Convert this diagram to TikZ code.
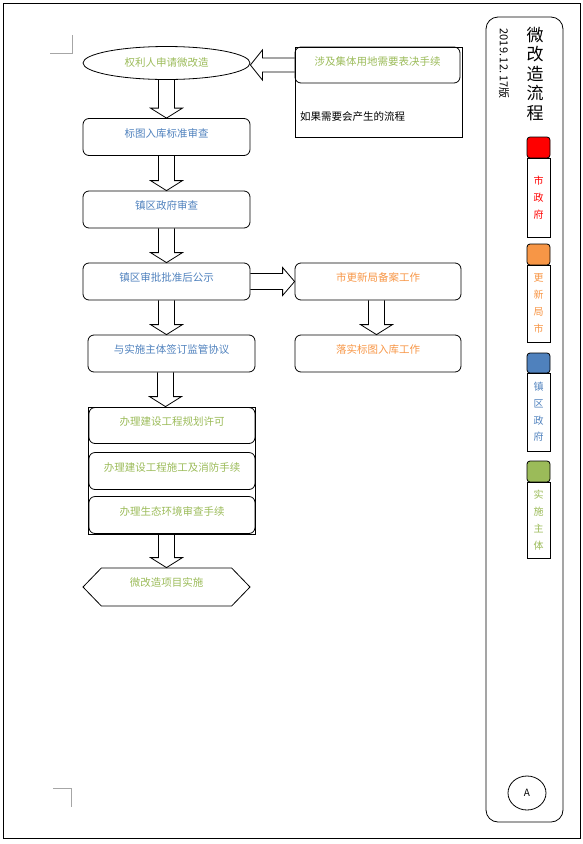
\documentclass[tikz,border=0pt]{standalone}
\usepackage{fontspec}
\setmainfont{Noto Sans CJK SC}
\usepackage{tikz}
\usetikzlibrary{shapes.geometric,shapes.symbols,calc}
\definecolor{cityred}{HTML}{FF0000}
\definecolor{bureauorange}{HTML}{F79646}
\definecolor{townblue}{HTML}{4F81BD}
\definecolor{ownergreen}{HTML}{9BBB59}
\tikzstyle{stepbox}=[draw, rounded corners=6pt, line width=0.8pt, minimum width=167pt, minimum height=37pt, inner sep=0pt, text depth=8.5pt, font=\fontsize{10.5}{12}\selectfont]
\tikzstyle{frame}=[draw, line width=0.8pt, inner sep=0pt]
\tikzstyle{hollow}=[draw, line width=0.8pt, line join=miter]
\tikzstyle{swatch}=[draw, rounded corners=3pt, line width=0.8pt, minimum width=23pt, minimum height=21pt, inner sep=0pt]
\tikzstyle{legendbox}=[draw, line width=0.8pt, minimum width=23pt, inner sep=0pt, align=center, font=\fontsize{10}{16.8}\selectfont]
\tikzstyle{cropmark}=[gray!70, line width=0.6pt]
% hollow block arrows between two nodes
\newcommand{\blockdown}[3][0pt]{%
  \path[hollow] let \p1=(#2.south), \p2=(#3.north) in
    (\x1+#1-8pt,\y1) -- (\x1+#1-8pt,\y2+10pt) -- (\x1+#1-16pt,\y2+10pt) -- (\x1+#1,\y2)
    -- (\x1+#1+16pt,\y2+10pt) -- (\x1+#1+8pt,\y2+10pt) -- (\x1+#1+8pt,\y1);}
\newcommand{\blockright}[2]{%
  \path[hollow] let \p1=(#1.east), \p2=(#2.west) in
    (\x1,\y1+8pt) -- (\x2-12pt,\y1+8pt) -- (\x2-12pt,\y1+14pt) -- (\x2,\y1)
    -- (\x2-12pt,\y1-14pt) -- (\x2-12pt,\y1-8pt) -- (\x1,\y1-8pt);}
\newcommand{\blockleft}[2]{%
  \path[hollow] let \p1=(#1.west), \p2=(#2.east) in
    (\x1,\y1+7pt) -- (\x2+12pt,\y1+7pt) -- (\x2+12pt,\y1+15pt) -- (\x2,\y1)
    -- (\x2+12pt,\y1-15pt) -- (\x2+12pt,\y1-7pt) -- (\x1,\y1-7pt);}

\begin{document}
\begin{tikzpicture}[x=1pt,y=-1pt]
  \useasboundingbox (0,0) rectangle (583,844);
  % page
  \draw[line width=0.8pt] (3,3) rectangle (580,838);
  \draw[cropmark] (50,53) -- (72,53) -- (72,35);
  \draw[cropmark] (53,788) -- (71,788) -- (71,807);
  % main column
  \node[ellipse, draw, line width=0.8pt, minimum width=167pt, minimum height=33pt, inner sep=0pt, text=ownergreen, font=\fontsize{10.5}{12}\selectfont] (apply) at (166.5,63) {权利人申请微改造};
  \node[stepbox, text=townblue] (check) at (166.5,137) {标图入库标准审查};
  \node[stepbox, text=townblue] (town) at (166.5,209.5) {镇区政府审查};
  \node[stepbox, text=townblue] (publish) at (166.5,281.5) {镇区审批批准后公示};
  \node[stepbox, text=townblue] (sign) at (171.5,353.5) {与实施主体签订监管协议};
  \node[frame, minimum width=167pt, minimum height=127pt] (permits) at (171.5,470.5) {};
  \node[stepbox, minimum width=166pt, minimum height=36pt, text=ownergreen] (plan) at (172,425.5) {办理建设工程规划许可};
  \node[stepbox, minimum width=166pt, text=ownergreen] (build) at (172,471) {办理建设工程施工及消防手续};
  \node[stepbox, minimum width=166pt, text=ownergreen] (eco) at (172,515) {办理生态环境审查手续};
  \node[signal, signal to=west and east, signal pointer angle=92, draw, line width=0.8pt, minimum width=167pt, minimum height=38pt, inner sep=0pt, text depth=9pt, text=ownergreen, font=\fontsize{10.5}{12}\selectfont] (start) at (166.5,587) {微改造项目实施};
  % side column
  \node[frame, minimum width=167pt, minimum height=90pt] (voteframe) at (378.5,92) {};
  \node[stepbox, minimum width=165pt, minimum height=36pt, text=ownergreen] (vote) at (377.5,65) {涉及集体用地需要表决手续};
  \node[anchor=west, inner sep=0pt, font=\fontsize{10.5}{12}\selectfont] (votenote) at (300,117) {如果需要会产生的流程};
  \node[stepbox, minimum width=166pt, text=bureauorange] (record) at (378,281.5) {市更新局备案工作};
  \node[stepbox, minimum width=166pt, text=bureauorange] (land) at (378,353.5) {落实标图入库工作};
  % arrows
  \blockleft{vote}{apply}
  \blockdown{apply}{check}
  \blockdown{check}{town}
  \blockdown{town}{publish}
  \blockdown{publish}{sign}
  \blockdown[-6pt]{sign}{permits}
  \blockdown[-5pt]{permits}{start}
  \blockright{publish}{record}
  \blockdown[-1.5pt]{record}{land}
  % legend panel
  \node[draw, rounded corners=12pt, line width=0.8pt, minimum width=77pt, minimum height=805pt] (panel) at (524.5,419.5) {};
  \node[align=center, inner sep=0pt, font=\fontsize{17}{19.5}\selectfont] (title) at (535,74) {微\\改\\造\\流\\程};
  \node[rotate=-90, inner sep=0pt, font=\fontsize{11}{12}\selectfont] (date) at (504,63.5) {2019.\,12.\,17版};
  \node[swatch, fill=cityred] (cityswatch) at (538.5,147.5) {};
  \node[legendbox, minimum height=79pt, text=cityred] (citylabel) at (538.5,197.5) {市\\政\\府};
  \node[swatch, fill=bureauorange] (bureauswatch) at (538.5,254.5) {};
  \node[legendbox, minimum height=77pt, text=bureauorange] (bureaulabel) at (538.5,303.5) {更\\新\\局\\市};
  \node[swatch, fill=townblue, minimum height=20pt] (townswatch) at (538.5,363) {};
  \node[legendbox, minimum height=78pt, text=townblue] (townlabel) at (538.5,412) {镇\\区\\政\\府};
  \node[swatch, fill=ownergreen] (ownerswatch) at (538.5,471.5) {};
  \node[legendbox, minimum height=76pt, text=ownergreen] (ownerlabel) at (538.5,520) {实\\施\\主\\体};
  \node[ellipse, draw, line width=0.8pt, minimum width=38pt, minimum height=34pt, inner sep=0pt, font=\fontsize{10}{12}\selectfont] (sheet) at (527,793) {A};
\end{tikzpicture}
\end{document}
